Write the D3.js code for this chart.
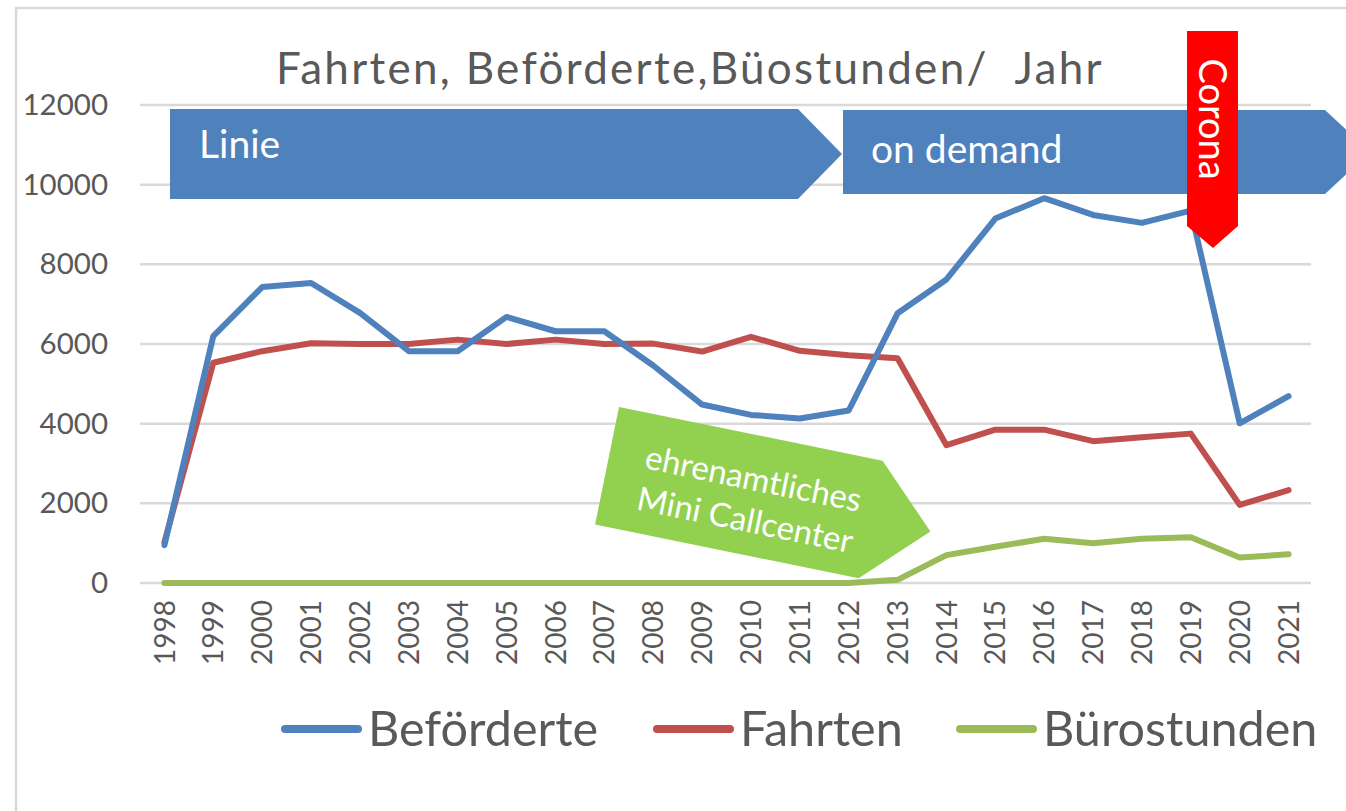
<!DOCTYPE html>
<html>
<head>
<meta charset="utf-8">
<script src="https://cdn.jsdelivr.net/npm/d3@7"></script>
<style>
  body { margin: 0; background: #fff; }
  svg text { font-family: Lato, "Open Sans", sans-serif; }
</style>
</head>
<body>
<div id="chart"></div>
<script>
// data
var years = ['1998','1999','2000','2001','2002','2003','2004','2005','2006','2007','2008','2009',
             '2010','2011','2012','2013','2014','2015','2016','2017','2018','2019','2020','2021'];
var befoerderte = [950, 6200, 7430, 7530, 6780, 5820, 5820, 6680, 6320, 6320, 5460, 4480,
                   4220, 4130, 4330, 6770, 7620, 9150, 9660, 9240, 9040, 9350, 4010, 4690];
var fahrten = [1020, 5530, 5820, 6020, 6000, 6000, 6110, 6000, 6110, 6000, 6010, 5810,
               6180, 5830, 5720, 5640, 3460, 3850, 3850, 3560, 3660, 3750, 1960, 2330];
var buerostunden = [0, 0, 0, 0, 0, 0, 0, 0, 0, 0, 0, 0,
                    0, 0, 0, 80, 700, 910, 1110, 1000, 1110, 1150, 640, 720];
var yTicks = [0, 2000, 4000, 6000, 8000, 10000, 12000];
var seriesNames = ['Beförderte', 'Fahrten', 'Bürostunden'];
var seriesColors = ['#4F81BD', '#C0504D', '#9BBB59'];

var W = 1346, H = 811;
var svg = d3.select('#chart').append('svg')
    .attr('width', W)
    .attr('height', H);

// chart frame
svg.append('rect')
    .attr('x', 16).attr('y', 8)
    .attr('width', W + 20).attr('height', H + 20)
    .attr('fill', 'none')
    .attr('stroke', '#d9d9d9')
    .attr('stroke-width', 2.5);

var x = d3.scalePoint().domain(years).range([140, 1313]).padding(0.5);
var y = d3.scaleLinear().domain([0, 12000]).range([583, 105]);

// gridlines
svg.append('g').selectAll('line')
    .data(yTicks)
  .enter().append('line')
    .attr('x1', 140).attr('x2', 1311)
    .attr('y1', function(d) { return y(d); })
    .attr('y2', function(d) { return y(d); })
    .attr('stroke', '#d9d9d9')
    .attr('stroke-width', 2.5);

// y axis labels
var yAxis = svg.append('g')
    .attr('transform', 'translate(140,0)')
    .call(d3.axisLeft(y).tickValues(yTicks).tickSize(0).tickPadding(32).tickFormat(d3.format('d')));
yAxis.select('.domain').remove();
yAxis.selectAll('text')
    .attr('fill', '#595959')
    .style('font-size', '29.5px');

// x axis labels (rotated)
svg.append('g').selectAll('text')
    .data(years)
  .enter().append('text')
    .attr('transform', function(d) { return 'translate(' + x(d) + ',600) rotate(-90)'; })
    .attr('text-anchor', 'end')
    .attr('dy', '0.36em')
    .attr('fill', '#595959')
    .style('font-size', '28px')
    .text(function(d) { return d; });

// annotation arrows (drawn under the lines)
var ann = svg.append('g');
// Linie
ann.append('path')
    .attr('d', 'M170,109 L798,109 L842,154 L798,199 L170,199 Z')
    .attr('fill', '#4F81BD');
ann.append('text')
    .attr('x', 199).attr('y', 158)
    .attr('fill', '#fff')
    .style('font-size', '39px')
    .text('Linie');
// on demand
ann.append('path')
    .attr('d', 'M843,110 L1325,110 L1370,152 L1325,194 L843,194 Z')
    .attr('fill', '#4F81BD');
ann.append('text')
    .attr('x', 871).attr('y', 163)
    .attr('fill', '#fff')
    .style('font-size', '39px')
    .text('on demand');

// green callout
var green = ann.append('g')
    .attr('transform', 'translate(619,407) rotate(11.5)');
green.append('path')
    .attr('d', 'M0,0 L269,0 L330,60 L269,120 L0,120 Z')
    .attr('fill', '#92D050');
green.selectAll('text')
    .data(['ehrenamtliches', 'Mini Callcenter'])
  .enter().append('text')
    .attr('x', 146)
    .attr('y', function(d, i) { return 55 + i * 42; })
    .attr('text-anchor', 'middle')
    .attr('fill', '#fff')
    .style('font-size', '33px')
    .text(function(d) { return d; });

// title
svg.append('text')
    .attr('x', 690).attr('y', 84)
    .attr('text-anchor', 'middle')
    .attr('fill', '#595959')
    .style('font-size', '44px')
    .style('letter-spacing', '2.3px')
    .style('white-space', 'pre')
    .text('Fahrten, Beförderte,Büostunden/  Jahr');

// lines
var line = d3.line()
    .x(function(d, i) { return x(years[i]); })
    .y(function(d) { return y(d); });

var allSeries = [befoerderte, fahrten, buerostunden];
// draw green first, then red, then blue on top
[2, 1, 0].forEach(function(k) {
  svg.append('path')
      .datum(allSeries[k])
      .attr('d', line)
      .attr('fill', 'none')
      .attr('stroke', seriesColors[k])
      .attr('stroke-width', 6)
      .attr('stroke-linejoin', 'round')
      .attr('stroke-linecap', 'round');
});

// Corona banner on top
svg.append('path')
    .attr('d', 'M1187,31 L1238,31 L1238,226 L1213,248 L1187,226 Z')
    .attr('fill', '#FF0000');
svg.append('text')
    .attr('transform', 'translate(1213,119) rotate(90)')
    .attr('text-anchor', 'middle')
    .attr('dy', '0.36em')
    .attr('fill', '#fff')
    .style('font-size', '38px')
    .text('Corona');

// legend
var legendX = [285, 657, 960];
var legend = svg.append('g').selectAll('g')
    .data(seriesNames)
  .enter().append('g')
    .attr('transform', function(d, i) { return 'translate(' + legendX[i] + ',729)'; });
legend.append('line')
    .attr('x1', 0).attr('x2', 73)
    .attr('stroke', function(d, i) { return seriesColors[i]; })
    .attr('stroke-width', 8)
    .attr('stroke-linecap', 'round');
legend.append('text')
    .attr('x', 83)
    .attr('dy', '0.36em')
    .attr('fill', '#595959')
    .style('font-size', '48.5px')
    .text(function(d) { return d; });
</script>
</body>
</html>
